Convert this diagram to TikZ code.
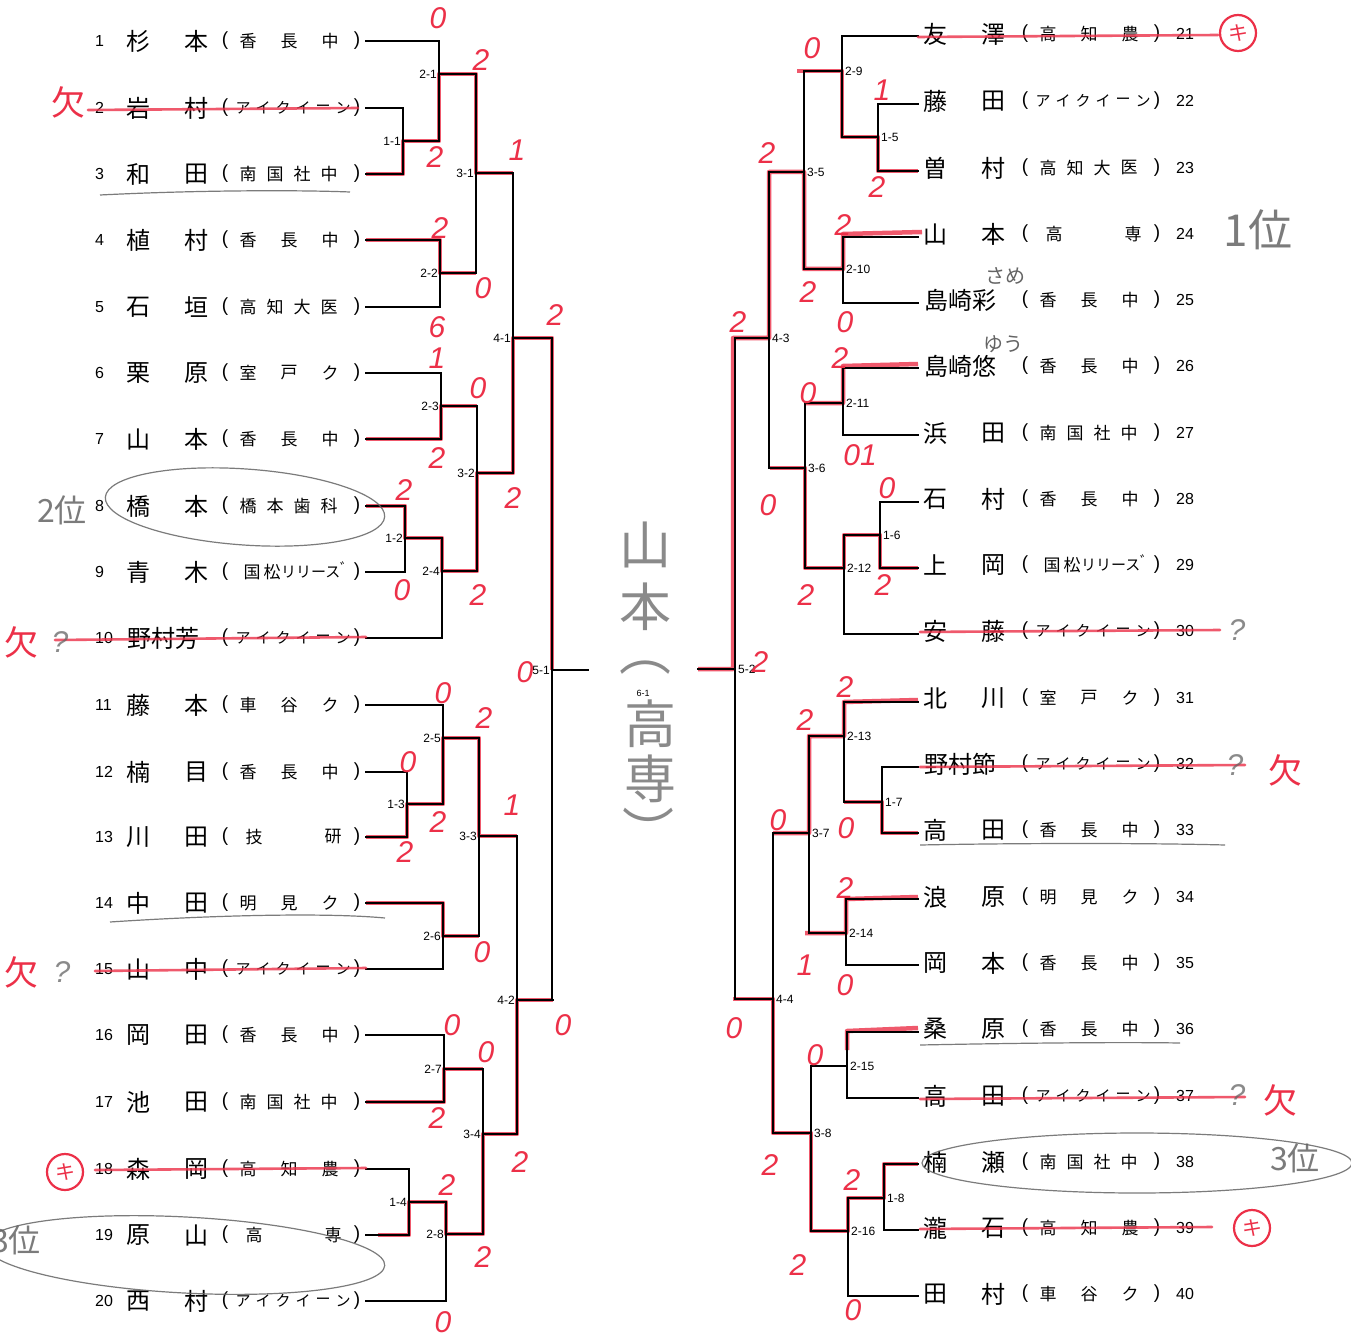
\documentclass[tikz,border=0pt]{standalone}
\usepackage{fontspec}
\setmainfont{Liberation Sans}
\newfontfamily\jp{Noto Sans CJK JP}
\definecolor{pen}{RGB}{236,48,72}
\definecolor{pencil}{RGB}{100,100,100}
\newcommand\Nb[2]{\node[num] at (\nx,#1) {#2};}
\newcommand\Nt[3]{\node[nm] at (\xo+138,#1) {#2}; \node[nm] at (\xo+196,#1) {#3};}
\newcommand\Nh[2]{\node[nm,anchor=west] at (\xo+127,#1) {#2};}
\newcommand\Pa[1]{\node[pr] at (\xs+225,#1) {(}; \node[pr] at (\xs+357,#1) {)};}
\newcommand\Sa[4]{\node[sch] at (\xs+248,#1){#2};\node[sch] at (\xs+289,#1){#3};\node[sch] at (\xs+330,#1){#4};}
\newcommand\Sb[5]{\node[sch] at (\xs+248,#1){#2};\node[sch] at (\xs+275,#1){#3};\node[sch] at (\xs+302,#1){#4};\node[sch] at (\xs+329,#1){#5};}
\newcommand\Sc[3]{\node[sch] at (\xs+254,#1){#2};\node[sch] at (\xs+333,#1){#3};}
\newcommand\Sk[1]{\node[kat] at (\xs+243,#1){ア};\node[kat] at (\xs+263,#1){イ};\node[kat] at (\xs+283,#1){ク};\node[kat] at (\xs+303,#1){イ};\node[kat] at (\xs+323,#1){ー};\node[kat] at (\xs+343,#1){ン};}
\newcommand\Sr[1]{\node[sch] at (\xs+252,#1){国};\node[sch] at (\xs+272,#1){松};\node[kat,anchor=west] at (\xs+281,#1){リリース};\node[kat,anchor=west] at (\xs+340,#1-4){ﾞ};}
\newcommand\mtL[6]{\draw[bk] (#2,#3) -- (#2,#4) (#2,#5) -- (#6,#5); \node[ml,anchor=east] (m#1) at (#2-1,#5) {#1};}
\newcommand\mtR[6]{\draw[bk] (#2,#3) -- (#2,#4) (#2,#5) -- (#6,#5); \node[ml,anchor=west] (m#1) at (#2+2,#5) {#1};}
\newcommand\rs[3]{\node[sco] at (#1,#2) {#3};}
\newcommand\ket[2]{\node[text=pen,font=\jp\fontsize{34}{34}\selectfont,inner sep=0] at (#1,#2) {欠};}
\newcommand\qm[2]{\node[text=pencil,font=\fontsize{30}{30}\selectfont\itshape,inner sep=0,opacity=.75] at (#1,#2) {?};}
\newcommand\kic[2]{\draw[pen,line width=2.2pt] (#1,#2) circle (18); \node[text=pen,font=\jp\fontsize{20}{20}\selectfont,inner sep=0] at (#1,#2) {キ};}
\begin{document}
\begin{tikzpicture}[x=1pt,y=-1pt,
  bk/.style={line width=1.5pt,black,line cap=rect},
  hl/.style={pen,line width=4.5pt,opacity=.8,line join=round},
  strike/.style={pen,line width=2.6pt,opacity=.8,line cap=round},
  nm/.style={font=\jp\fontsize{24}{24}\selectfont,inner sep=0},
  sch/.style={font=\jp\fontsize{17}{17}\selectfont,inner sep=0},
  kat/.style={font=\jp\fontsize{15}{15}\selectfont,inner sep=0},
  pr/.style={font=\fontsize{19}{19}\selectfont,inner sep=0},
  num/.style={font=\fontsize{16}{16}\selectfont,inner sep=0,anchor=west},
  ml/.style={font=\fontsize{12}{12}\selectfont,inner sep=1pt},
  sco/.style={text=pen,font=\fontsize{30}{30}\selectfont\itshape,inner sep=0},
  pn/.style={pencil,line width=1.2pt,opacity=.85}]
\fill[white] (0,0) rectangle (1351,1337);
\useasboundingbox (0,0) rectangle (1351,1337);

% ---------- red highlighted paths (winners) ----------
\draw[hl] (366,174) -- (403,174) -- (403,141) -- (439,141) -- (439,74) -- (476,74) -- (476,173) -- (513,173);
\draw[hl] (366,240) -- (440,240) -- (440,273) -- (476,273);
\draw[hl] (366,439) -- (441,439) -- (441,406) -- (477,406);
\draw[hl] (366,506) -- (405,506) -- (405,538) -- (442,538) -- (442,571) -- (477,571) -- (477,473) -- (513,473) -- (513,338) -- (552,338) -- (552,670);
\draw[hl] (366,837) -- (407,837) -- (407,804) -- (443,804) -- (443,738) -- (479,738) -- (479,836) -- (517,836);
\draw[hl] (366,903) -- (443,903) -- (443,936) -- (479,936);
\draw[hl] (366,1102) -- (444,1102) -- (444,1069) -- (483,1069);
\draw[hl] (378,1235) -- (409,1235) -- (409,1202) -- (446,1202) -- (446,1234) -- (483,1234) -- (483,1134) -- (517,1134) -- (517,1000) -- (553,1000);
\draw[hl] (918,171) -- (878,171) -- (878,137) -- (842,137) -- (842,71) -- (797,71);
\draw[hl] (922,232) -- (843,234) -- (843,269) -- (804,269) -- (804,172) -- (769,172) -- (769,338) -- (733,338) -- (733,669) -- (698,669);
\draw[hl] (918,364) -- (843,366) -- (843,403) -- (805,403);
\draw[hl] (918,568) -- (880,568) -- (880,535) -- (844,535) -- (844,568) -- (805,568) -- (805,468) -- (770,468);
\draw[hl] (918,700) -- (844,702) -- (844,736) -- (809,736) -- (809,833) -- (773,833);
\draw[hl] (918,833) -- (882,833) -- (882,802) -- (844,802);
\draw[hl] (918,897) -- (846,899) -- (846,933) -- (805,933);
\draw[hl] (918,1164) -- (884,1164) -- (884,1198) -- (848,1198) -- (848,1231) -- (811,1231) -- (811,1133) -- (773,1133) -- (773,999) -- (733,999);
\draw[hl] (918,1028) -- (847,1031) -- (847,1050);

% ---------- entry lines ----------
\foreach \y/\xv in {41/439,108/403,174/403,240/440,307/440,373/441,439/441,506/405,572/405,638/442,705/443,772/407,837/407,903/443,969/443,1035/444,1102/444,1169/409,1235/409,1301/446}
  \draw[bk] (366,\y) -- (\xv,\y);
\foreach \y/\xv in {36/842,104/878,171/878,237/843,303/843,368/843,435/843,502/880,568/880,634/844,702/844,767/882,833/882,899/846,965/846,1032/847,1098/847,1164/884,1230/884,1296/848}
  \draw[bk] (\xv,\y) -- (918,\y);

% ---------- matches ----------
\mtL{1-1}{403}{108}{174}{141}{439}
\mtL{2-1}{439}{41}{141}{74}{476}
\mtL{2-2}{440}{240}{307}{273}{476}
\mtL{3-1}{476}{74}{273}{173}{513}
\mtL{1-2}{405}{506}{572}{538}{442}
\mtL{2-3}{441}{373}{439}{406}{477}
\mtL{2-4}{442}{538}{638}{571}{477}
\mtL{3-2}{477}{406}{571}{473}{513}
\mtL{4-1}{513}{173}{473}{338}{552}
\mtL{1-3}{407}{772}{837}{804}{443}
\mtL{2-5}{443}{705}{804}{738}{479}
\mtL{2-6}{443}{903}{969}{936}{479}
\mtL{3-3}{479}{738}{936}{836}{517}
\mtL{1-4}{409}{1169}{1235}{1202}{446}
\mtL{2-7}{444}{1035}{1102}{1069}{483}
\mtL{2-8}{446}{1202}{1301}{1234}{483}
\mtL{3-4}{483}{1069}{1234}{1134}{517}
\mtL{4-2}{517}{836}{1134}{1000}{553}
\mtL{5-1}{552}{338}{1000}{670}{588}
\mtR{1-5}{878}{104}{171}{137}{842}
\mtR{2-9}{842}{36}{137}{71}{804}
\mtR{2-10}{843}{237}{303}{269}{804}
\mtR{3-5}{804}{71}{269}{172}{769}
\mtR{1-6}{880}{502}{568}{535}{844}
\mtR{2-11}{843}{368}{435}{403}{805}
\mtR{2-12}{844}{535}{634}{568}{805}
\mtR{3-6}{805}{403}{568}{468}{769}
\mtR{4-3}{769}{172}{468}{338}{735}
\mtR{1-7}{882}{767}{833}{802}{844}
\mtR{2-13}{844}{702}{802}{736}{809}
\mtR{2-14}{846}{899}{965}{933}{809}
\mtR{3-7}{809}{736}{933}{833}{773}
\mtR{1-8}{884}{1164}{1230}{1198}{848}
\mtR{2-15}{847}{1032}{1098}{1066}{811}
\mtR{2-16}{848}{1198}{1296}{1231}{811}
\mtR{3-8}{811}{1066}{1231}{1133}{773}
\mtR{4-4}{773}{833}{1133}{999}{735}
\mtR{5-2}{735}{338}{999}{669}{698}
\node[ml,font=\fontsize{9}{9}\selectfont] (m6-1) at (643,693) {6-1};

% ---------- left entries ----------
\def\xo{0}\def\xs{0}\def\nx{95}
\Nb{41}{1}\Nt{41}{杉}{本}\Pa{41}\Sa{41}{香}{長}{中}
\Nb{108}{2}\Nt{108}{岩}{村}\Pa{108}\Sk{108}
\Nb{174}{3}\Nt{174}{和}{田}\Pa{174}\Sb{174}{南}{国}{社}{中}
\Nb{240}{4}\Nt{240}{植}{村}\Pa{240}\Sa{240}{香}{長}{中}
\Nb{307}{5}\Nt{307}{石}{垣}\Pa{307}\Sb{307}{高}{知}{大}{医}
\Nb{373}{6}\Nt{373}{栗}{原}\Pa{373}\Sa{373}{室}{戸}{ク}
\Nb{439}{7}\Nt{439}{山}{本}\Pa{439}\Sa{439}{香}{長}{中}
\Nb{506}{8}\Nt{506}{橋}{本}\Pa{506}\Sb{506}{橋}{本}{歯}{科}
\Nb{572}{9}\Nt{572}{青}{木}\Pa{572}\Sr{572}
\Nb{638}{10}\Nh{638}{野村芳}\Pa{638}\Sk{638}
\Nb{705}{11}\Nt{705}{藤}{本}\Pa{705}\Sa{705}{車}{谷}{ク}
\Nb{772}{12}\Nt{772}{楠}{目}\Pa{772}\Sa{772}{香}{長}{中}
\Nb{837}{13}\Nt{837}{川}{田}\Pa{837}\Sc{837}{技}{研}
\Nb{903}{14}\Nt{903}{中}{田}\Pa{903}\Sa{903}{明}{見}{ク}
\Nb{969}{15}\Nt{969}{山}{中}\Pa{969}\Sk{969}
\Nb{1035}{16}\Nt{1035}{岡}{田}\Pa{1035}\Sa{1035}{香}{長}{中}
\Nb{1102}{17}\Nt{1102}{池}{田}\Pa{1102}\Sb{1102}{南}{国}{社}{中}
\Nb{1169}{18}\Nt{1169}{森}{岡}\Pa{1169}\Sa{1169}{高}{知}{農}
\Nb{1235}{19}\Nt{1235}{原}{山}\Pa{1235}\Sc{1235}{高}{専}
\Nb{1301}{20}\Nt{1301}{西}{村}\Pa{1301}\Sk{1301}

% ---------- right entries ----------
\def\xo{797}\def\xs{800}\def\nx{1176}
\Nb{34}{21}\Nt{34}{友}{澤}\Pa{34}\Sa{34}{高}{知}{農}
\Nb{101}{22}\Nt{101}{藤}{田}\Pa{101}\Sk{101}
\Nb{168}{23}\Nt{168}{曽}{村}\Pa{168}\Sb{168}{高}{知}{大}{医}
\Nb{234}{24}\Nt{234}{山}{本}\Pa{234}\Sc{234}{高}{専}
\Nb{300}{25}\Nh{300}{島崎彩}\Pa{300}\Sa{300}{香}{長}{中}
\Nb{366}{26}\Nh{366}{島崎悠}\Pa{366}\Sa{366}{香}{長}{中}
\Nb{433}{27}\Nt{433}{浜}{田}\Pa{433}\Sb{433}{南}{国}{社}{中}
\Nb{499}{28}\Nt{499}{石}{村}\Pa{499}\Sa{499}{香}{長}{中}
\Nb{565}{29}\Nt{565}{上}{岡}\Pa{565}\Sr{565}
\Nb{631}{30}\Nt{631}{安}{藤}\Pa{631}\Sk{631}
\Nb{698}{31}\Nt{698}{北}{川}\Pa{698}\Sa{698}{室}{戸}{ク}
\Nb{764}{32}\Nh{764}{野村節}\Pa{764}\Sk{764}
\Nb{830}{33}\Nt{830}{高}{田}\Pa{830}\Sa{830}{香}{長}{中}
\Nb{897}{34}\Nt{897}{浪}{原}\Pa{897}\Sa{897}{明}{見}{ク}
\Nb{963}{35}\Nt{963}{岡}{本}\Pa{963}\Sa{963}{香}{長}{中}
\Nb{1029}{36}\Nt{1029}{桑}{原}\Pa{1029}\Sa{1029}{香}{長}{中}
\Nb{1096}{37}\Nt{1096}{高}{田}\Pa{1096}\Sk{1096}
\Nb{1162}{38}\Nt{1162}{楠}{瀬}\Pa{1162}\Sb{1162}{南}{国}{社}{中}
\Nb{1228}{39}\Nt{1228}{瀧}{石}\Pa{1228}\Sa{1228}{高}{知}{農}
\Nb{1294}{40}\Nt{1294}{田}{村}\Pa{1294}\Sa{1294}{車}{谷}{ク}

% ---------- strike-throughs ----------
\draw[strike] (88,110) -- (358,108);
\draw[strike] (55,640) -- (366,637);
\draw[strike] (95,971) -- (366,968);
\draw[strike] (95,1170) -- (366,1168);
\draw[strike] (918,37) -- (1218,35);
\draw[strike] (920,632) -- (1220,630);
\draw[strike] (920,767) -- (1245,765);
\draw[strike] (920,1099) -- (1245,1097);
\draw[strike] (920,1229) -- (1212,1227);

% ---------- red marks ----------
\ket{68}{102}\ket{22}{642}\ket{22}{972}\ket{1285}{770}\ket{1280}{1100}
\kic{65}{1172}\kic{1238}{33}\kic{1252}{1228}

% ---------- red scores ----------
\rs{438}{18}{0}\rs{481}{60}{2}\rs{435}{157}{2}\rs{517}{150}{1}
\rs{440}{228}{2}\rs{483}{288}{0}\rs{437}{327}{6}\rs{555}{315}{2}
\rs{437}{358}{1}\rs{478}{388}{0}\rs{437}{458}{2}\rs{513}{498}{2}
\rs{404}{490}{2}\rs{402}{590}{0}\rs{478}{595}{2}\rs{525}{672}{0}
\rs{443}{693}{0}\rs{484}{718}{2}\rs{408}{762}{0}\rs{438}{822}{2}
\rs{405}{852}{2}\rs{512}{805}{1}\rs{482}{952}{0}\rs{452}{1025}{0}
\rs{486}{1052}{0}\rs{563}{1025}{0}\rs{520}{1162}{2}\rs{437}{1118}{2}
\rs{447}{1185}{2}\rs{483}{1257}{2}\rs{443}{1322}{0}
\rs{812}{48}{0}\rs{882}{90}{1}\rs{877}{187}{2}\rs{767}{153}{2}
\rs{843}{225}{2}\rs{808}{292}{2}\rs{845}{322}{0}\rs{738}{322}{2}
\rs{840}{358}{2}\rs{808}{393}{0}\rs{860}{455}{01}\rs{768}{505}{0}
\rs{887}{488}{0}\rs{883}{585}{2}\rs{806}{595}{2}\rs{760}{662}{2}
\rs{845}{687}{2}\rs{805}{720}{2}\rs{846}{828}{0}\rs{778}{820}{0}
\rs{845}{888}{2}\rs{805}{965}{1}\rs{845}{985}{0}\rs{734}{1028}{0}
\rs{815}{1055}{0}\rs{770}{1165}{2}\rs{852}{1180}{2}\rs{798}{1265}{2}
\rs{853}{1310}{0}

% ---------- pencil notes ----------
\node[text=pencil,font=\jp\fontsize{44}{44}\selectfont,inner sep=0,opacity=.85] (first) at (1258,230) {1位};
\node[text=pencil,font=\jp\fontsize{32}{32}\selectfont,inner sep=0,opacity=.85] (second) at (62,510) {2位};
\node[text=pencil,font=\jp\fontsize{32}{32}\selectfont,inner sep=0,opacity=.85] (thirdR) at (1295,1158) {3位};
\node[text=pencil,font=\jp\fontsize{32}{32}\selectfont,inner sep=0,opacity=.85] (thirdL) at (16,1240) {3位};
\node[text=pencil,font=\jp\fontsize{20}{20}\selectfont,inner sep=0] (same) at (1005,276) {さめ};
\node[text=pencil,font=\jp\fontsize{20}{20}\selectfont,inner sep=0] (yuu) at (1003,344) {ゆう};
\qm{60}{642}\qm{62}{972}\qm{1237}{630}\qm{1235}{765}\qm{1237}{1095}
\draw[pn,rotate around={-4:(245,507)}] (245,507) ellipse (140 and 38);
\draw[pn,rotate around={-3:(185,1255)}] (185,1255) ellipse (200 and 38);
\draw[pn] (1137,1163) ellipse (215 and 30);
\draw[pn] (100,195) .. controls (200,190) and (300,190) .. (350,192);
\draw[pn] (110,922) .. controls (200,916) and (320,912) .. (385,918);
\draw[pn] (920,845) .. controls (1020,843) and (1150,843) .. (1225,845);
\draw[pn] (920,1045) .. controls (1020,1043) and (1120,1042) .. (1180,1043);
\begin{scope}[every node/.style={text=pencil,opacity=.75,font=\jp\fontsize{52}{52}\selectfont,inner sep=0}]
\node (v1) at (645,545) {山};
\node (v2) at (645,607) {本};
\node (v3) at (645,668) {︵};
\node (v4) at (650,724) {高};
\node (v5) at (650,779) {専};
\node (v6) at (648,830) {︶};
\end{scope}
\end{tikzpicture}
\end{document}
